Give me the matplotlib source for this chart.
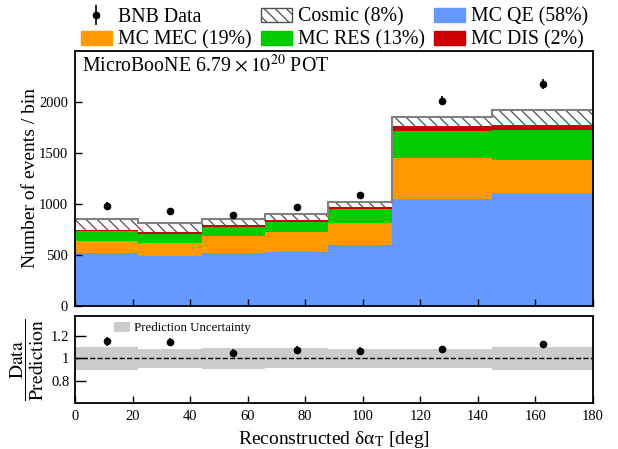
import numpy as np
import matplotlib
matplotlib.use("Agg")
import matplotlib.pyplot as plt
from matplotlib.patches import Patch

plt.rcParams['font.family'] = ['Liberation Serif', 'DejaVu Serif']
plt.rcParams['mathtext.fontset'] = 'stix'
plt.rcParams['hatch.linewidth'] = 0.9

# binning in reconstructed delta alpha_T (deg)
edges = np.array([0, 22, 44, 66, 88, 110, 145, 180])

# stacked prediction, events per bin
mc_qe = np.array([516, 489, 516, 532, 596, 1047, 1103])
mc_mec = np.array([120, 127, 172, 189, 219, 408, 329])
mc_res = np.array([98, 92, 88, 104, 135, 264, 290])
mc_dis = np.array([16, 16, 20, 16, 19, 45, 49])
cosmic = np.array([105, 88, 59, 59, 47, 92, 150])

# BNB data
data = np.array([985, 929, 894, 969, 1086, 2012, 2175])

# fractional prediction uncertainty per bin
pred_unc = np.array([0.10, 0.087, 0.095, 0.09, 0.085, 0.082, 0.10])

c_qe = '#6699ff'
c_mec = '#ff9900'
c_res = '#00cc00'
c_dis = '#cc0000'
hatch = '\\\\\\'

fig = plt.figure(figsize=(6.18, 4.49), dpi=100)
ax = fig.add_axes([75/618, 1-306/449, 518/618, 255/449])
rax = fig.add_axes([75/618, 1-403/449, 518/618, 87/449])

centers = 0.5*(edges[1:] + edges[:-1])

# build the stack bottom to top
layers = [(mc_qe, c_qe), (mc_mec, c_mec), (mc_res, c_res), (mc_dis, c_dis)]
bottom = np.zeros(len(mc_qe))
for vals, col in layers:
    top = bottom + vals
    ax.stairs(top, edges, baseline=bottom, fill=True, color=col, lw=0)
    bottom = top
total = bottom + cosmic
ax.stairs(total, edges, baseline=bottom, fill=True, facecolor='white',
          edgecolor='#505050', hatch=hatch, lw=0)
ax.stairs(total, edges, baseline=None, color='#808080', lw=1.5)

err = ax.errorbar(centers, data, yerr=np.sqrt(data), fmt='o', color='black',
                  ms=4.5, elinewidth=1.2, capsize=0)

ax.set_xlim(0, 180)
ax.set_ylim(0, 2500)
ax.set_yticks([0, 500, 1000, 1500, 2000])
ax.set_xticks(np.arange(0, 181, 20))
ax.tick_params(axis='x', labelbottom=False)
ax.set_ylabel('Number of events / bin', fontsize=14)
ax.yaxis.set_label_coords(-0.069, 0.5)
ax.text(0.013, 0.919, r'MicroBooNE 6.79 $\times\, 10^{20}$ POT',
        transform=ax.transAxes, fontsize=14.3, va='baseline', ha='left')

handles = [err, Patch(color=c_mec),
           Patch(facecolor='white', edgecolor='#505050', hatch=hatch),
           Patch(color=c_res), Patch(color=c_qe), Patch(color=c_dis)]
labels = ['BNB Data', 'MC MEC (19%)', 'Cosmic (8%)', 'MC RES (13%)',
          'MC QE (58%)', 'MC DIS (2%)']
fig.legend(handles, labels, ncol=3, loc='upper left',
           bbox_to_anchor=(81/618, 1-7.5/449), frameon=False, fontsize=14.3,
           borderpad=0, borderaxespad=0, handlelength=1.56, handleheight=0.75,
           handletextpad=0.3, columnspacing=0.47, labelspacing=0.2)

# ratio panel
pred = total
ratio = data / pred
ratio_err = np.sqrt(data) / pred
rax.stairs(1 + pred_unc, edges, baseline=1 - pred_unc, fill=True,
           color='#cccccc', lw=0, label='Prediction Uncertainty')
rax.axhline(1, color='black', ls='--', lw=1)
rax.errorbar(centers, ratio, yerr=ratio_err, fmt='o', color='black',
             ms=4.5, elinewidth=1.2, capsize=0)
rax.set_xlim(0, 180)
rax.set_ylim(0.6, 1.38)
rax.set_yticks([0.8, 1.0, 1.2])
rax.set_yticklabels(['0.8', '1', '1.2'])
rax.set_xticks(np.arange(0, 181, 20))
rax.set_xlabel(r'Reconstructed δα$_{\mathrm{T}}$ [deg]', fontsize=14)
rax.set_ylabel(r'$\dfrac{\mathrm{Data}}{\mathrm{Prediction}}$', fontsize=14)
rax.yaxis.set_label_coords(-0.056, 0.5)
rax.legend(loc='upper left', frameon=False, fontsize=9.3, handlelength=1.25,
           handleheight=0.7, handletextpad=0.3, borderaxespad=0.1,
           bbox_to_anchor=(0.063, 1.0))

for a in (ax, rax):
    a.tick_params(direction='in', labelsize=10.5, width=1, length=5, pad=5)
    for s in a.spines.values():
        s.set_linewidth(1.3)
rax.tick_params(axis='y', length=8, pad=4)

fig.savefig('out.png', dpi=100)
